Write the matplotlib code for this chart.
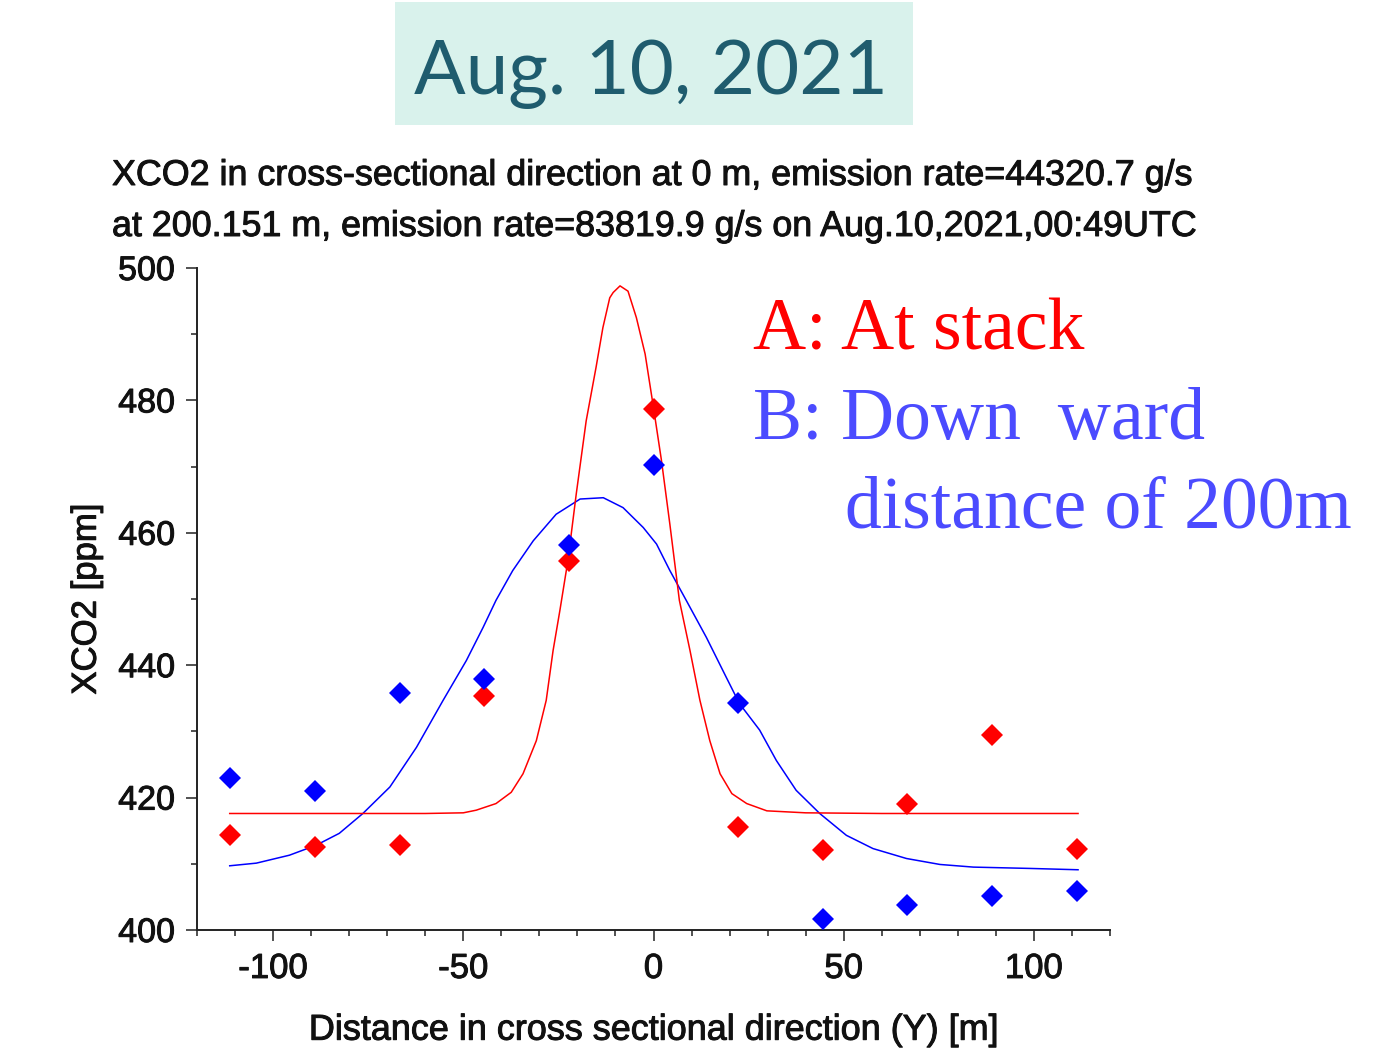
import matplotlib
matplotlib.use("Agg")
import matplotlib.pyplot as plt
import matplotlib.patheffects as pe
from matplotlib.patches import Rectangle
from matplotlib.ticker import MultipleLocator

plt.rcParams['axes.unicode_minus'] = False

# measured points (distance [m], XCO2 [ppm])
dist = [-111.2, -89.0, -66.7, -44.5, -22.2, 0.0, 22.2, 44.5, 66.7, 89.0, 111.2]
xco2_a = [414.3, 412.5, 412.8, 435.4, 455.8, 478.7, 415.6, 412.1, 419.0, 429.5, 412.3]
xco2_b = [422.9, 421.0, 435.8, 437.9, 458.2, 470.3, 434.3, 401.7, 403.8, 405.1, 405.9]

# fitted curves
fit_a_x = [-111.4, -80, -60, -50, -46.6, -41.4, -37.4, -34.3, -30.8, -28.2, -26.4, -24.6,
           -22.5, -20.3, -17.7, -15.1, -13.3, -11.5, -10.6, -8.8, -6.7, -4.5, -2.2, 0.0,
           2.1, 4.3, 6.8, 9.6, 12.2, 14.8, 17.5, 20.6, 24.5, 29.8, 40, 60, 80, 111.6]
fit_a_y = [417.6, 417.6, 417.6, 417.7, 418.1, 419.1, 420.8, 423.6, 428.6, 434.7, 442.2, 448.3,
           455.8, 465.9, 476.9, 485.0, 491.0, 495.5, 496.3, 497.3, 496.5, 492.5, 487.0, 478.9,
           470.9, 461.3, 449.8, 442.2, 434.7, 428.6, 423.6, 420.6, 419.1, 418.0, 417.7, 417.6,
           417.6, 417.6]
fit_b_x = [-111.4, -104.4, -95.7, -88.7, -82.6, -76.4, -69.3, -62.3, -55.3, -49.2, -44.8,
           -41.4, -37.0, -31.6, -25.6, -19.3, -13.2, -8.0, -2.7, 0.8, 4.3, 8.6, 13.9, 19.1,
           22.6, 27.9, 32.3, 37.5, 43.7, 50.7, 57.7, 66.5, 75.3, 84.1, 99.0, 111.6]
fit_b_y = [409.7, 410.1, 411.3, 412.8, 414.6, 417.6, 421.6, 427.6, 434.7, 440.7, 445.7,
           449.8, 454.3, 458.8, 462.8, 465.1, 465.3, 463.8, 460.8, 458.3, 454.3, 449.8, 444.2,
           438.2, 434.2, 430.2, 425.6, 421.1, 417.6, 414.3, 412.3, 410.8, 409.9, 409.5, 409.3,
           409.1]

title_lines = ["XCO2 in cross-sectional direction at 0 m, emission rate=44320.7 g/s",
               "at 200.151 m, emission rate=83819.9 g/s on Aug.10,2021,00:49UTC"]

W, H = 1400, 1052
fig = plt.figure(figsize=(14, 10.52), dpi=100)
ax = fig.add_axes([197 / W, 1 - 930 / H, 913 / W, 662 / H])

# the source raster text looks a bit heavier than plain Arial
heavy = [pe.withStroke(linewidth=0.7, foreground='#111111')]
sans = {'family': 'Liberation Sans', 'color': '#111111', 'path_effects': heavy}

ax.plot(fit_b_x, fit_b_y, color='#0000ff', lw=1.1, zorder=2)
ax.plot(fit_a_x, fit_a_y, color='#ff0000', lw=1.1, zorder=2)
ax.plot(dist, xco2_a, 'D', color='#ff0000', ms=11.5, mew=0, zorder=3)
ax.plot(dist, xco2_b, 'D', color='#0000ff', ms=11.5, mew=0, zorder=3)

ax.set_xlim(-120, 120)
ax.set_ylim(400, 500)
ax.xaxis.set_major_locator(MultipleLocator(50))
ax.xaxis.set_minor_locator(MultipleLocator(10))
ax.yaxis.set_major_locator(MultipleLocator(20))
ax.yaxis.set_minor_locator(MultipleLocator(10))
for s in ['top', 'right']:
    ax.spines[s].set_visible(False)
for s in ['left', 'bottom']:
    ax.spines[s].set_linewidth(1.4)
    ax.spines[s].set_color('#222222')
ax.tick_params(which='major', length=7.8, width=1.1, color='#222222')
ax.tick_params(which='minor', length=4.2, width=1.1, color='#222222')
ax.tick_params(axis='x', pad=8)
ax.tick_params(axis='y', pad=8)
for lab in ax.get_xticklabels():
    lab.set_fontfamily('Liberation Sans')
    lab.set_fontsize(25)
    lab.set_color('#111111')
    lab.set_path_effects(heavy)
for lab in ax.get_yticklabels():
    lab.set_fontfamily('Liberation Sans')
    lab.set_fontsize(24.5)
    lab.set_color('#111111')
    lab.set_path_effects(heavy)

ax.set_xlabel("Distance in cross sectional direction (Y) [m]", fontsize=25.9, labelpad=20, **sans)
ax.set_ylabel("XCO2 [ppm]", fontsize=25, labelpad=11, **sans)

fig.text(112 / W, 1 - 185 / H, title_lines[0], fontsize=25.8, ha='left', va='baseline', **sans)
fig.text(112 / W, 1 - 236 / H, title_lines[1], fontsize=25.8, ha='left', va='baseline', **sans)

# date banner
fig.patches.append(Rectangle((395 / W, 1 - 125 / H), 518 / W, 123 / H,
                             transform=fig.transFigure, facecolor='#d9f2ec',
                             edgecolor='none', zorder=0))
fig.text(651 / W, 1 - 94 / H, "Aug. 10, 2021", fontsize=55, color='#1f5c6e',
         family='Lato', ha='center', va='baseline')

serif = {'family': 'Liberation Serif', 'fontsize': 53}
fig.text(753 / W, 1 - 349 / H, "A: At stack", color='#ff0000', va='baseline', **serif)
fig.text(753 / W, 1 - 439 / H, "B: Down  ward", color='#4b4bff', va='baseline', **serif)
fig.text(845 / W, 1 - 528 / H, "distance of 200m", color='#4b4bff', va='baseline', **serif)

fig.savefig("out.png", dpi=100)
